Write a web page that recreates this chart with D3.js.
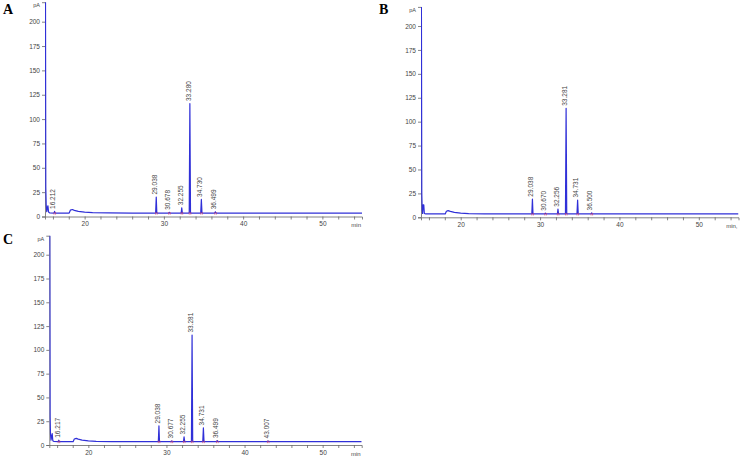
<!DOCTYPE html>
<html>
<head>
<meta charset="utf-8">
<script src="https://cdn.jsdelivr.net/npm/d3@7"></script>
<style>
  html, body { margin: 0; padding: 0; background: #fff; }
  svg { display: block; }
</style>
</head>
<body>
<svg id="chart" width="740" height="456"></svg>
<script>
// ---------------- DATA ----------------
const panelNames = ["A", "B", "C"];
const xTickValues = [20, 30, 40, 50];
const yTickValues = [0, 25, 50, 75, 100, 125, 150, 175, 200];

// Trace points [time (min), signal (pA)]
const traceA = [
  [15.0, 230], [15.06, 230], [15.1, 30], [15.15, 12], [15.22, 5], [15.3, 9], [15.37, 11],
  [15.45, 4.5], [15.6, 3.7], [16.14, 3.5], [16.21, 5.2], [16.28, 3.5], [18.05, 3.5],
  [18.2, 6.5], [18.45, 7.2], [18.7, 6.3], [19.2, 5.2], [20.0, 4.5], [21.0, 4.0],
  [23.0, 3.7], [26.0, 3.5], [28.96, 3.5], [29.038, 20], [29.11, 3.5], [30.6, 3.5],
  [30.678, 4.3], [30.75, 3.5], [32.18, 3.5], [32.255, 9], [32.33, 3.5], [33.2, 3.5],
  [33.28, 116], [33.36, 3.5], [34.65, 3.5], [34.73, 17.5], [34.81, 3.5], [36.42, 3.5],
  [36.499, 4.8], [36.58, 3.5], [55.0, 3.5]
];
const traceB = [
  [15.0, 230], [15.05, 230], [15.1, 25], [15.15, 8], [15.2, 4], [15.27, 13], [15.35, 13],
  [15.42, 4], [15.6, 3.6], [18.05, 3.5], [18.2, 6.3], [18.42, 7.0], [18.7, 6.2],
  [19.2, 5.1], [20.0, 4.4], [21.0, 3.9], [23.0, 3.6], [26.0, 3.5], [28.96, 3.5],
  [29.038, 19], [29.11, 3.5], [30.6, 3.5], [30.67, 4.3], [30.75, 3.5], [32.18, 3.5],
  [32.256, 8.5], [32.33, 3.5], [33.2, 3.5], [33.281, 114], [33.36, 3.5], [34.65, 3.5],
  [34.731, 18], [34.81, 3.5], [36.42, 3.5], [36.5, 4.6], [36.58, 3.5], [55.0, 3.5]
];
const traceC = [
  [15.0, 230], [15.06, 230], [15.1, 30], [15.15, 12], [15.22, 5], [15.3, 9], [15.37, 12],
  [15.45, 4.5], [15.6, 3.7], [16.14, 3.5], [16.217, 5.0], [16.29, 3.5], [18.05, 3.5],
  [18.2, 6.3], [18.45, 7.0], [18.7, 6.2], [19.2, 5.1], [20.0, 4.4], [21.0, 3.9],
  [23.0, 3.6], [26.0, 3.5], [28.96, 3.5], [29.038, 20], [29.11, 3.5], [30.6, 3.5],
  [30.677, 4.3], [30.75, 3.5], [32.18, 3.5], [32.255, 8.5], [32.33, 3.5], [33.2, 3.5],
  [33.281, 115.5], [33.36, 3.5], [34.65, 3.5], [34.731, 18], [34.81, 3.5], [36.42, 3.5],
  [36.499, 4.6], [36.58, 3.5], [42.93, 3.5], [43.007, 4.3], [43.08, 3.5], [55.0, 3.5]
];

// Peak labels: retention times (label text) and the signal at the label foot
const peakTimesA  = ["16.212", "29.038", "30.678", "32.255", "33.280", "34.730", "36.499"];
const peakTopsA   = [5.2, 20, 4.3, 9, 116, 17.5, 4.8];
const peakTimesB  = ["29.038", "30.670", "32.256", "33.281", "34.731", "36.500"];
const peakTopsB   = [19, 4.3, 8.5, 114, 18, 4.6];
const peakTimesC  = ["16.217", "29.038", "30.677", "32.255", "33.281", "34.731", "36.499", "43.007"];
const peakTopsC   = [5.0, 20, 4.3, 8.5, 115.5, 18, 4.6, 4.3];

const xUnit = ["min", "min,", "min"];

// ---------------- DRAW ----------------
const svg = d3.select("#chart");

const layouts = [
  { x0: 45,  x1: 362,   y0: 216.5, yTop: 2.2, lx: 3,   ly: 13.5 },
  { x0: 421, x1: 738.5, y0: 217.3, yTop: 6.9, lx: 379, ly: 13.5 },
  { x0: 49.3, x1: 361.7, y0: 445,  yTop: 235.7, lx: 3, ly: 244 }
];
const traces = [traceA, traceB, traceC];
const labelTimes = [peakTimesA, peakTimesB, peakTimesC];
const labelTops = [peakTopsA, peakTopsB, peakTopsC];

const traceColor = "#3030d8";
const axisColor = "#666";
const textColor = "#444";
const fontFam = "'Liberation Sans', Arial, sans-serif";

panelNames.forEach((name, i) => {
  const L = layouts[i];
  const x = d3.scaleLinear().domain([15, 55]).range([L.x0, L.x1]);
  const y = d3.scaleLinear().domain([0, 220]).range([L.y0, L.yTop]);
  const g = svg.append("g");

  // panel letter
  svg.append("text")
    .attr("x", L.lx).attr("y", L.ly)
    .attr("font-family", "'Liberation Serif', 'Times New Roman', serif")
    .attr("font-weight", "bold").attr("font-size", 14)
    .attr("fill", "#000").text(name);

  // x axis (minor ticks every 2 min, labels every 10)
  const xMinor = d3.range(16, 55, 2);
  const xAxis = d3.axisBottom(x).tickValues(xMinor).tickSize(3)
    .tickFormat(d => xTickValues.includes(d) ? d : "");
  const gx = g.append("g").attr("transform", `translate(0,${L.y0})`).call(xAxis);
  gx.select(".domain").attr("stroke", axisColor).attr("stroke-width", 0.8);
  gx.selectAll(".tick line").attr("stroke", axisColor).attr("stroke-width", 0.8);
  gx.selectAll(".tick text").attr("font-family", fontFam).attr("font-size", 6.5)
    .attr("fill", textColor).attr("dy", "0.6em");

  g.append("text").attr("x", L.x1 - 1).attr("y", L.y0 + 10.5)
    .attr("text-anchor", "end").attr("font-family", fontFam).attr("font-size", 6)
    .attr("fill", textColor).text(xUnit[i]);

  // y axis
  const yAxis = d3.axisLeft(y).tickValues(yTickValues).tickSize(3).tickPadding(2);
  const gy = g.append("g").attr("transform", `translate(${L.x0},0)`).call(yAxis);
  gy.select(".domain").attr("stroke", axisColor).attr("stroke-width", 0.8);
  gy.selectAll(".tick line").attr("stroke", axisColor).attr("stroke-width", 0.8);
  gy.selectAll(".tick text").attr("font-family", fontFam).attr("font-size", 6.5)
    .attr("fill", textColor);

  g.append("text").attr("x", L.x0 - 5).attr("y", L.yTop + 5)
    .attr("text-anchor", "end").attr("font-family", fontFam).attr("font-size", 5.5)
    .attr("fill", textColor).text("pA");

  // clip
  const clipId = "clip" + name;
  svg.append("clipPath").attr("id", clipId).append("rect")
    .attr("x", L.x0).attr("y", L.yTop).attr("width", L.x1 - L.x0)
    .attr("height", L.y0 - L.yTop);

  // trace
  const line = d3.line().x(d => x(d[0])).y(d => y(d[1]));
  g.append("path").datum(traces[i])
    .attr("clip-path", `url(#${clipId})`)
    .attr("fill", "none").attr("stroke", traceColor)
    .attr("stroke-width", 1.2).attr("stroke-linejoin", "round")
    .attr("d", line);

  // integration markers (small red marks at peak ends)
  labelTimes[i].forEach(t => {
    const rt = +t;
    [rt - 0.08, rt + 0.12].forEach(v => {
      g.append("line")
        .attr("x1", x(v)).attr("x2", x(v))
        .attr("y1", y(3.5) - 1).attr("y2", y(3.5) + 1.5)
        .attr("stroke", "#d04070").attr("stroke-width", 0.7);
    });
  });

  // peak labels
  labelTimes[i].forEach((t, k) => {
    const px = x(+t) + 0.8;
    const py = y(labelTops[i][k]) - 2.5;
    g.append("text")
      .attr("transform", `translate(${px},${py}) rotate(-90)`)
      .attr("text-anchor", "start")
      .attr("font-family", fontFam).attr("font-size", 6.5)
      .attr("fill", textColor).text(t);
  });
});
</script>
</body>
</html>
